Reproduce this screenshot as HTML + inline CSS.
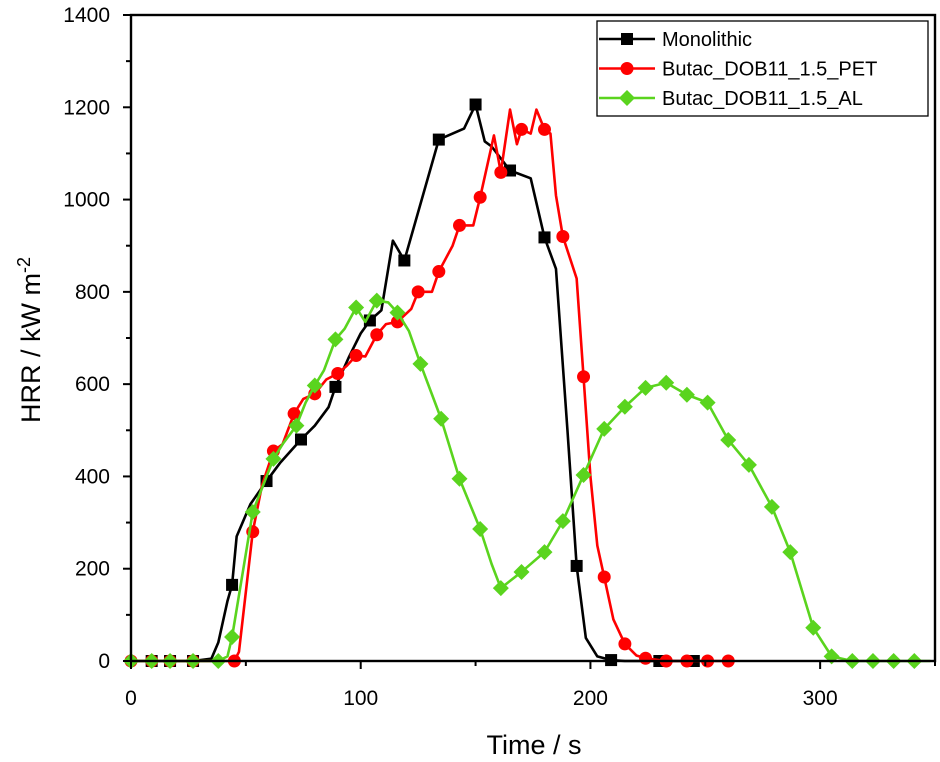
<!DOCTYPE html>
<html><head><meta charset="utf-8"><style>
html,body{margin:0;padding:0;background:#fff;}
svg{display:block;font-family:"Liberation Sans",Arial,sans-serif;}
</style></head><body>
<svg id="chart" width="940" height="762" viewBox="0 0 940 762">
<g id="grid"></g>
<g id="series"></g>
<g id="axes"></g>
<g id="legend"></g>
</svg>
<script>
const xTicks=[0,100,200,300];
const yTicks=[0,200,400,600,800,1000,1200,1400];
const seriesNames=["Monolithic","Butac_DOB11_1.5_PET","Butac_DOB11_1.5_AL"];
const monoT=[0,9,17,27,35,38,42,44,46,52,59,65,74,80,86,89,95,100,104,109,114,119,134,145,150,154,157,165,174,180,185,190,194,198,203,209,215,230,245];
const monoV=[0,0,0,0,5,40,130,165,270,340,390,430,480,510,550,594,660,710,738,760,911,868,1130,1154,1206,1126,1115,1063,1046,918,850,500,206,50,10,2,0,0,0];
const monoMT=[9,17,27,44,59,74,89,104,119,134,150,165,180,194,209,230,245];
const monoMV=[0,0,0,165,390,480,594,738,868,1130,1206,1063,918,206,2,0,0];
const petT=[0,9,17,27,35,45,47,53,57,62,66,71,75,80,85,90,94,98,102,107,111,116,122,125,131,134,140,143,149,152,158,161,165,168,170,174,176.5,180,182.6,185,188,194,197,200,203,206,210,215,220,224,233,242,251,260];
const petV=[0,0,0,0,0,0,20,280,380,455,470,536,568,579,610,623,640,662,660,707,730,735,763,800,800,844,900,944,944,1005,1139,1059,1195,1120,1152,1143,1195,1152,1143,1009,920,829,616,400,250,182,90,37,12,6,0,0,0,0];
const petMT=[0,9,17,27,45,53,62,71,80,90,98,107,116,125,134,143,152,161,170,180,188,197,206,215,224,233,242,251,260];
const petMV=[0,0,0,0,0,280,455,536,579,623,662,707,735,800,844,944,1005,1059,1152,1152,920,616,182,37,6,0,0,0,0];
const alT=[0,9,17,27,38,42,44,53,62,66,72,76,80,84,89,93,98,102,107,112,116,121,126,135,143,152,157,161,170,180,188,197,206,215,224,233,242,251,260,269,279,287,297,305,314,323,332,341,348];
const alV=[0,0,0,0,0,10,52,323,438,470,510,560,597,630,697,720,766,735,781,777,755,715,644,525,395,286,210,158,193,236,303,403,503,551,592,603,577,560,479,425,334,236,72,10,0,0,0,0,0];
const alMT=[0,9,17,27,38,44,53,62,72,80,89,98,107,116,126,135,143,152,161,170,180,188,197,206,215,224,233,242,251,260,269,279,287,297,305,314,323,332,341];
const alMV=[0,0,0,0,0,52,323,438,510,597,697,766,781,755,644,525,395,286,158,193,236,303,403,503,551,592,603,577,560,479,425,334,236,72,10,0,0,0,0];

const X0=131,X1=935,Y0=661,Y1=15,XMAX=350,YMAX=1400;
const sx=t=>X0+(t/XMAX)*(X1-X0);
const sy=v=>Y0-(v/YMAX)*(Y0-Y1);
const NS="http://www.w3.org/2000/svg";
function mk(tag,attrs,parent){const e=document.createElementNS(NS,tag);for(const k in attrs)e.setAttribute(k,attrs[k]);parent.appendChild(e);return e;}
const ser=document.getElementById('series'),ax=document.getElementById('axes'),lg=document.getElementById('legend');
function marker(kind,x,y,color,parent){
  let e;
  if(kind==='square'){e=mk('rect',{x:x-6,y:y-6,width:12,height:12,fill:color},parent);}
  else if(kind==='circle'){e=mk('circle',{cx:x,cy:y,r:6.5,fill:color},parent);}
  else {e=mk('polygon',{points:`${x},${y-8} ${x+8},${y} ${x},${y+8} ${x-8},${y}`,fill:color},parent);}
  return e;
}
const defs=[
 {T:monoT,V:monoV,MT:monoMT,MV:monoMV,c:"#000000",m:"square",n:"monolithic"},
 {T:petT,V:petV,MT:petMT,MV:petMV,c:"#ff0000",m:"circle",n:"pet"},
 {T:alT,V:alV,MT:alMT,MV:alMV,c:"#5ad41e",m:"diamond",n:"al"}
];
defs.forEach(d=>{
  const g=mk('g',{},ser);
  
  
  const p=mk('polyline',{points:d.T.map((t,i)=>sx(t)+','+sy(d.V[i])).join(' '),fill:'none',stroke:d.c,'stroke-width':2.6,'stroke-linejoin':'round'},g);
  
  
  d.MT.forEach((t,i)=>{
    const e=marker(d.m,sx(t),sy(d.MV[i]),d.c,g);
    
    
  });
});
// frame
const fr=mk('rect',{x:X0,y:Y1,width:X1-X0,height:Y0-Y1,fill:'none',stroke:'#000','stroke-width':2.4},ax);


for(let t=0;t<=XMAX;t+=50){
  const maj=t%100===0;
  mk('line',{x1:sx(t),x2:sx(t),y1:Y0,y2:Y0+(maj?8:5),stroke:'#000','stroke-width':2},ax);
}
for(let v=0;v<=YMAX;v+=100){
  const maj=v%200===0;
  mk('line',{x1:X0,x2:X0-(maj?8:5),y1:sy(v),y2:sy(v),stroke:'#000','stroke-width':2},ax);
}
xTicks.forEach(t=>{
  const e=mk('text',{x:sx(t),y:705,'text-anchor':'middle','font-size':21},ax);e.textContent=t;
  
  
});
yTicks.forEach(v=>{
  const e=mk('text',{x:110,y:sy(v)+7,'text-anchor':'end','font-size':21},ax);e.textContent=v;
  
  
});
const xt=mk('text',{x:534,y:754,'text-anchor':'middle','font-size':27},ax);xt.textContent='Time / s';


const yt=mk('text',{x:0,y:0,'text-anchor':'middle','font-size':27,transform:'translate(40,340) rotate(-90)'},ax);
yt.innerHTML='HRR / kW m<tspan dy="-10" font-size="18">-2</tspan>';


// legend
const lb=mk('rect',{x:597,y:21,width:331,height:95,fill:'#fff',stroke:'#000','stroke-width':1.3},lg);


defs.forEach((d,i)=>{
  const y=39+i*29.5;
  const g=mk('g',{},lg);
  
  
  mk('line',{x1:599,x2:655,y1:y,y2:y,stroke:d.c,'stroke-width':2.6},g);
  marker(d.m,627,y,d.c,g);
  const t=mk('text',{x:662,y:y+7,'font-size':20},g);t.textContent=seriesNames[i];
});
</script>
</body></html>
